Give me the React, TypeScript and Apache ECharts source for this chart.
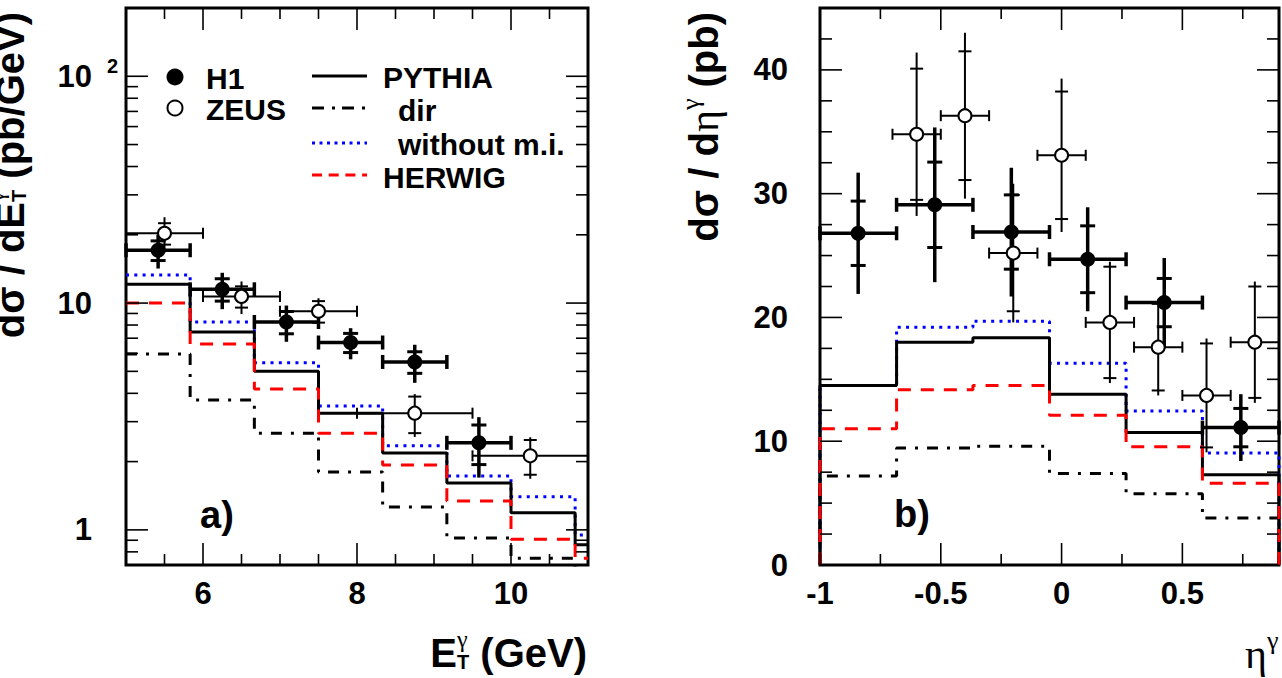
import React, { useEffect, useRef } from 'react';
import * as echarts from 'echarts';

// ---------------- Panel a) : dsigma/dE_T (log scale) ----------------
const etEdges = [5, 5.833, 6.667, 7.5, 8.333, 9.167, 10, 10.833, 11];
const etPythia = [12.1, 7.45, 5.0, 3.27, 2.18, 1.61, 1.19, 0.86];
const etDir = [5.96, 3.74, 2.67, 1.8, 1.26, 0.92, 0.75, 0.6];
const etNoMI = [13.3, 8.25, 5.45, 3.52, 2.35, 1.73, 1.4, 0.95];
const etHerwig = [10.0, 6.6, 4.18, 2.67, 1.93, 1.34, 0.91, 0.75];

const h1EtX = [5.417, 6.25, 7.083, 7.917, 8.75, 9.583];
const h1EtLo = [5, 5.833, 6.667, 7.5, 8.333, 9.167];
const h1EtHi = [5.833, 6.667, 7.5, 8.333, 9.167, 10];
const h1EtVal = [17.1, 11.5, 8.25, 6.7, 5.5, 2.42];
const h1EtStat = [1.7, 1.3, 0.93, 0.65, 0.6, 0.48];
const h1EtTot = [2.9, 2.1, 1.5, 1.05, 1.05, 0.72];

const zeusEtX = [5.5, 6.5, 7.5, 8.75, 10.25];
const zeusEtLo = [5, 6, 7, 8, 9.5];
const zeusEtHi = [6, 7, 8, 9.5, 11];
const zeusEtVal = [20.3, 10.7, 9.2, 3.27, 2.12];
const zeusEtStat = [2.2, 1.15, 1.0, 0.6, 0.37];
const zeusEtTot = [3.6, 1.75, 1.3, 0.7, 0.44];

const etMajorTicks = [6, 8, 10];
const etMinorTicks = [5.5, 6.5, 7, 7.5, 8.5, 9, 9.5, 10.5];
const logMajorTicks = [1, 10, 100];
const logMinorTicks = [0.8, 0.9, 2, 3, 4, 5, 6, 7, 8, 9, 20, 30, 40, 50, 60, 70, 80, 90];

// ---------------- Panel b) : dsigma/deta (linear) ----------------
const etaEdges = [-1, -0.683, -0.367, -0.05, 0.267, 0.583, 0.9];
const etaPythia = [14.5, 18.0, 18.35, 13.8, 10.7, 7.3];
const etaDir = [7.2, 9.45, 9.6, 7.4, 5.75, 3.8];
const etaNoMI = [14.5, 19.2, 19.7, 16.3, 12.45, 9.05];
const etaHerwig = [11.0, 14.15, 14.5, 12.1, 9.55, 6.6];

const h1EtaX = [-0.842, -0.525, -0.208, 0.108, 0.425, 0.742];
const h1EtaLo = [-1, -0.683, -0.367, -0.05, 0.267, 0.583];
const h1EtaHi = [-0.683, -0.367, -0.05, 0.267, 0.583, 0.9];
const h1EtaVal = [26.8, 29.1, 26.9, 24.7, 21.2, 11.1];
const h1EtaStat = [2.6, 3.45, 3.0, 2.7, 1.95, 1.55];
const h1EtaTot = [4.9, 6.25, 5.2, 4.2, 3.6, 2.7];

const zeusEtaX = [-0.6, -0.4, -0.2, 0.0, 0.2, 0.4, 0.6, 0.8];
const zeusEtaLo = [-0.7, -0.5, -0.3, -0.1, 0.1, 0.3, 0.5, 0.7];
const zeusEtaHi = [-0.5, -0.3, -0.1, 0.1, 0.3, 0.5, 0.7, 0.9];
const zeusEtaVal = [34.8, 36.3, 25.2, 33.1, 19.6, 17.6, 13.7, 18.0];
const zeusEtaStat = [5.3, 5.2, 4.7, 5.15, 4.5, 3.5, 4.2, 4.5];
const zeusEtaTot = [6.6, 6.7, 5.6, 6.2, 4.9, 3.9, 4.6, 4.9];

const etaMajorTicks = [-1, -0.5, 0, 0.5];
const etaMinorTicks = [-0.75, -0.25, 0.25, 0.75];
const sigMajorTicks = [0, 10, 20, 30, 40];
const sigMinorTicks = [2.5, 5, 7.5, 12.5, 15, 17.5, 22.5, 25, 27.5, 32.5, 35, 37.5, 42.5];

// ---------------- styling ----------------
const SANS = '"Liberation Sans", Arial, Helvetica, sans-serif';
const SERIF = '"Liberation Serif", "Times New Roman", serif';
const F = (s: number) => `bold ${s}px ${SANS}`;
const G = (s: number) => `${s}px ${SERIF}`;

const DASH_DIR = [11, 9, 3, 9];
const DASH_DOT = [3, 5.3];
const DASH_RED = [13, 10];

const A = { xMin: 5, xMax: 11, yMin: 0.7, yMax: 200 };
const B = { xMin: -1, xMax: 0.9, yMin: 0, yMax: 45 };

function histPoints(edges: number[], vals: number[], dropEnds: boolean) {
  const pts: number[][] = [];
  if (dropEnds) pts.push([edges[0], 0]);
  vals.forEach((v, i) => pts.push([edges[i], v]));
  pts.push([edges[edges.length - 1], vals[vals.length - 1]]);
  if (dropEnds) pts.push([edges[edges.length - 1], 0]);
  return pts;
}

function lineEl(x1: number, y1: number, x2: number, y2: number, w: number) {
  return { type: 'line', shape: { x1, y1, x2, y2 }, style: { stroke: '#000', lineWidth: w } };
}

function errorRender(thick: boolean) {
  const lw = thick ? 3.5 : 2;
  const cap = thick ? 7 : 5.5;
  const cross = thick ? 7.5 : 6.5;
  const crossW = thick ? 3 : 2;
  return (_p: any, api: any) => {
    const x = api.value(0), y = api.value(1), lo = api.value(2), hi = api.value(3);
    const st = api.value(4), tot = api.value(5);
    const pl = api.coord([lo, y]), pr = api.coord([hi, y]);
    const pt = api.coord([x, y + tot]), pb = api.coord([x, y - tot]);
    const s1 = api.coord([x, y + st]), s2 = api.coord([x, y - st]);
    return {
      type: 'group',
      children: [
        lineEl(pl[0], pl[1], pr[0], pr[1], lw),
        lineEl(pl[0], pl[1] - cap, pl[0], pl[1] + cap, lw),
        lineEl(pr[0], pr[1] - cap, pr[0], pr[1] + cap, lw),
        lineEl(pt[0], pt[1], pb[0], pb[1], lw),
        lineEl(s1[0] - cross, s1[1], s1[0] + cross, s1[1], crossW),
        lineEl(s2[0] - cross, s2[1], s2[0] + cross, s2[1], crossW),
      ],
    };
  };
}

function xTickRender(yMin: number, yMax: number) {
  return (_p: any, api: any) => {
    const v = api.value(0);
    const len = api.value(2) === 1 ? 22 : 11;
    const b = api.coord([v, yMin]);
    const t = api.coord([v, yMax]);
    return {
      type: 'group',
      children: [lineEl(b[0], b[1], b[0], b[1] - len, 1.6), lineEl(t[0], t[1], t[0], t[1] + len, 1.6)],
    };
  };
}

function yTickRender(xMin: number, xMax: number) {
  return (_p: any, api: any) => {
    const v = api.value(1);
    const len = api.value(2) === 1 ? 22 : 12;
    const l = api.coord([xMin, v]);
    const r = api.coord([xMax, v]);
    return {
      type: 'group',
      children: [lineEl(l[0], l[1], l[0] + len, l[1], 1.6), lineEl(r[0], r[1], r[0] - len, r[1], 1.6)],
    };
  };
}

function errData(xs: number[], v: number[], lo: number[], hi: number[], st: number[], tot: number[]) {
  return xs.map((x, i) => [x, v[i], lo[i], hi[i], st[i], tot[i]]);
}

const near = (arr: number[], v: number) => arr.some((t) => Math.abs(t - v) < 1e-6 * Math.max(1, Math.abs(t)));

// text layout helpers
let measureCtx: CanvasRenderingContext2D | null = null;
function tw(text: string, font: string) {
  if (!measureCtx) measureCtx = document.createElement('canvas').getContext('2d');
  measureCtx!.font = font;
  return measureCtx!.measureText(text).width;
}
type Seg = { t: string; f: string; s: number; dy: number; serif?: boolean; advance?: boolean };
function buildRow(segs: Seg[]) {
  let x = 0;
  let pending = 0;
  const items: any[] = [];
  for (const sg of segs) {
    const w = tw(sg.t, sg.f);
    items.push({ ...sg, x, w });
    if (sg.advance === false) pending = Math.max(pending, w);
    else {
      x += Math.max(pending, w);
      pending = 0;
    }
  }
  return { items, width: x };
}
function rowTexts(segs: Seg[], startX: number, baseline: number, alignEnd: boolean) {
  const row = buildRow(segs);
  const x0 = alignEnd ? startX - row.width : startX;
  return row.items.map((it: any) => ({
    type: 'text',
    x: x0 + it.x,
    y: baseline + it.dy - (it.serif ? 0.338 : 0.346) * it.s,
    style: {
      text: it.t,
      font: it.f,
      fill: '#000',
      align: 'left',
      textAlign: 'left',
      verticalAlign: 'middle',
      textVerticalAlign: 'middle',
    },
  }));
}
function txt(text: string, x: number, y: number, font: string, align = 'left') {
  return {
    type: 'text',
    x,
    y,
    style: { text, font, fill: '#000', align, textAlign: align, verticalAlign: 'middle', textVerticalAlign: 'middle' },
  };
}

function buildOption() {
  const labelBase = { color: '#000', fontFamily: SANS, fontWeight: 'bold', fontSize: 31 };
  const hidden = { axisLine: { show: false }, axisTick: { show: false }, splitLine: { show: false } };

  const leftYTitle = rowTexts(
    [
      { t: 'dσ / dE', f: F(40), s: 40, dy: 0 },
      { t: 'γ', f: G(24), s: 24, dy: -20, serif: true, advance: false },
      { t: 'T', f: F(20), s: 20, dy: 2 },
      { t: ' (pb/GeV)', f: F(40), s: 40, dy: 0 },
    ],
    0,
    0,
    true
  );
  const rightYTitle = rowTexts(
    [
      { t: 'dσ / d', f: F(40), s: 40, dy: 0 },
      { t: 'η', f: G(42), s: 42, dy: 0, serif: true },
      { t: 'γ', f: G(26), s: 26, dy: -19, serif: true },
      { t: ' (pb)', f: F(40), s: 40, dy: 0 },
    ],
    0,
    0,
    true
  );
  const leftXTitle = rowTexts(
    [
      { t: 'E', f: F(40), s: 40, dy: 0 },
      { t: 'γ', f: G(24), s: 24, dy: -20, serif: true, advance: false },
      { t: 'T', f: F(20), s: 20, dy: 2 },
      { t: ' (GeV)', f: F(40), s: 40, dy: 0 },
    ],
    587,
    667,
    true
  );
  const rightXTitle = rowTexts(
    [
      { t: 'η', f: G(42), s: 42, dy: 0, serif: true },
      { t: 'γ', f: G(26), s: 26, dy: -19, serif: true },
    ],
    1245,
    668,
    false
  );

  const graphic: any[] = [
    { type: 'group', x: 24, y: 12, rotation: Math.PI / 2, children: leftYTitle },
    { type: 'group', x: 718, y: 12, rotation: Math.PI / 2, children: rightYTitle },
    ...leftXTitle,
    ...rightXTitle,
    // legend
    { type: 'circle', shape: { cx: 175, cy: 77, r: 8.5 }, style: { fill: '#000' } },
    { type: 'circle', shape: { cx: 175, cy: 108, r: 7.5 }, style: { fill: '#fff', stroke: '#000', lineWidth: 2 } },
    txt('H1', 206, 78, F(30)),
    txt('ZEUS', 206, 109, F(30)),
    { type: 'line', shape: { x1: 312, y1: 76, x2: 367, y2: 76 }, style: { stroke: '#000', lineWidth: 3 } },
    { type: 'line', shape: { x1: 312, y1: 108, x2: 367, y2: 108 }, style: { stroke: '#000', lineWidth: 3, lineDash: [12, 8, 3, 7] } },
    { type: 'line', shape: { x1: 312, y1: 143, x2: 367, y2: 143 }, style: { stroke: '#0000ff', lineWidth: 3, lineDash: [3, 4.5] } },
    { type: 'line', shape: { x1: 312, y1: 175, x2: 367, y2: 175 }, style: { stroke: '#ff0000', lineWidth: 3, lineDash: [10, 6.7] } },
    txt('PYTHIA', 383, 77, F(30)),
    txt('dir', 398, 110, F(30)),
    txt('without m.i.', 398, 144, F(30)),
    txt('HERWIG', 383, 177, F(30)),
    txt('a)', 217, 515, F(38), 'center'),
    txt('b)', 912, 514, F(38), 'center'),
  ];

  const histSeries = (name: string, data: number[][], idx: number, color: string, type: any) => ({
    type: 'line',
    name,
    xAxisIndex: idx,
    yAxisIndex: idx,
    data,
    step: 'end',
    showSymbol: false,
    symbol: 'none',
    silent: true,
    lineStyle: { color, width: 3, type, cap: 'butt' },
    z: 2,
  });

  const series: any[] = [
    // panel a histograms
    histSeries('without m.i.', histPoints(etEdges, etNoMI, false), 0, '#0000ff', DASH_DOT),
    histSeries('PYTHIA', histPoints(etEdges, etPythia, false), 0, '#000', 'solid'),
    histSeries('dir', histPoints(etEdges, etDir, false), 0, '#000', DASH_DIR),
    histSeries('HERWIG', histPoints(etEdges, etHerwig, false), 0, '#ff0000', DASH_RED),
    // panel b histograms
    histSeries('without m.i.', histPoints(etaEdges, etaNoMI, true), 1, '#0000ff', DASH_DOT),
    histSeries('PYTHIA', histPoints(etaEdges, etaPythia, true), 1, '#000', 'solid'),
    histSeries('dir', histPoints(etaEdges, etaDir, true), 1, '#000', DASH_DIR),
    histSeries('HERWIG', histPoints(etaEdges, etaHerwig, true), 1, '#ff0000', DASH_RED),
    // ticks
    {
      type: 'custom', xAxisIndex: 0, yAxisIndex: 0, silent: true, z: 3, encode: { x: 0, y: 1 },
      renderItem: xTickRender(A.yMin, A.yMax),
      data: [...etMajorTicks.map((v) => [v, 1, 1]), ...etMinorTicks.map((v) => [v, 1, 0])],
    },
    {
      type: 'custom', xAxisIndex: 0, yAxisIndex: 0, silent: true, z: 3, encode: { x: 0, y: 1 },
      renderItem: yTickRender(A.xMin, A.xMax),
      data: [...logMajorTicks.map((v) => [A.xMin, v, 1]), ...logMinorTicks.map((v) => [A.xMin, v, 0])],
    },
    {
      type: 'custom', xAxisIndex: 1, yAxisIndex: 1, silent: true, z: 3, encode: { x: 0, y: 1 },
      renderItem: xTickRender(B.yMin, B.yMax),
      data: [...etaMajorTicks.map((v) => [v, 1, 1]), ...etaMinorTicks.map((v) => [v, 1, 0])],
    },
    {
      type: 'custom', xAxisIndex: 1, yAxisIndex: 1, silent: true, z: 3, encode: { x: 0, y: 1 },
      renderItem: yTickRender(B.xMin, B.xMax),
      data: [...sigMajorTicks.map((v) => [B.xMin, v, 1]), ...sigMinorTicks.map((v) => [B.xMin, v, 0])],
    },
    // error bars
    {
      type: 'custom', name: 'ZEUS', xAxisIndex: 0, yAxisIndex: 0, silent: true, z: 4, encode: { x: 0, y: 1 },
      renderItem: errorRender(false),
      data: errData(zeusEtX, zeusEtVal, zeusEtLo, zeusEtHi, zeusEtStat, zeusEtTot),
    },
    {
      type: 'custom', name: 'H1', xAxisIndex: 0, yAxisIndex: 0, silent: true, z: 4, encode: { x: 0, y: 1 },
      renderItem: errorRender(true),
      data: errData(h1EtX, h1EtVal, h1EtLo, h1EtHi, h1EtStat, h1EtTot),
    },
    {
      type: 'custom', name: 'ZEUS', xAxisIndex: 1, yAxisIndex: 1, silent: true, z: 4, encode: { x: 0, y: 1 },
      renderItem: errorRender(false),
      data: errData(zeusEtaX, zeusEtaVal, zeusEtaLo, zeusEtaHi, zeusEtaStat, zeusEtaTot),
    },
    {
      type: 'custom', name: 'H1', xAxisIndex: 1, yAxisIndex: 1, silent: true, z: 4, encode: { x: 0, y: 1 },
      renderItem: errorRender(true),
      data: errData(h1EtaX, h1EtaVal, h1EtaLo, h1EtaHi, h1EtaStat, h1EtaTot),
    },
    // markers
    {
      type: 'scatter', name: 'ZEUS', xAxisIndex: 0, yAxisIndex: 0, silent: true, z: 5, symbol: 'circle', symbolSize: 13,
      itemStyle: { color: '#fff', borderColor: '#000', borderWidth: 2, opacity: 1 },
      data: zeusEtX.map((x, i) => [x, zeusEtVal[i]]),
    },
    {
      type: 'scatter', name: 'H1', xAxisIndex: 0, yAxisIndex: 0, silent: true, z: 5, symbol: 'circle', symbolSize: 15,
      itemStyle: { color: '#000', opacity: 1 },
      data: h1EtX.map((x, i) => [x, h1EtVal[i]]),
    },
    {
      type: 'scatter', name: 'ZEUS', xAxisIndex: 1, yAxisIndex: 1, silent: true, z: 5, symbol: 'circle', symbolSize: 13,
      itemStyle: { color: '#fff', borderColor: '#000', borderWidth: 2, opacity: 1 },
      data: zeusEtaX.map((x, i) => [x, zeusEtaVal[i]]),
    },
    {
      type: 'scatter', name: 'H1', xAxisIndex: 1, yAxisIndex: 1, silent: true, z: 5, symbol: 'circle', symbolSize: 15,
      itemStyle: { color: '#000', opacity: 1 },
      data: h1EtaX.map((x, i) => [x, h1EtaVal[i]]),
    },
  ];

  return {
    animation: false,
    backgroundColor: '#fff',
    grid: [
      { left: 126, top: 8, width: 462, height: 557, show: true, borderColor: '#000', borderWidth: 3, backgroundColor: 'transparent' },
      { left: 820, top: 8, width: 461, height: 557, show: true, borderColor: '#000', borderWidth: 3, backgroundColor: 'transparent' },
    ],
    xAxis: [
      {
        gridIndex: 0, type: 'value', min: A.xMin, max: A.xMax, interval: 1, ...hidden,
        axisLabel: { ...labelBase, margin: 13, formatter: (v: number) => (near(etMajorTicks, v) ? String(v) : '') },
      },
      {
        gridIndex: 1, type: 'value', min: B.xMin, max: B.xMax, interval: 0.5, ...hidden,
        axisLabel: { ...labelBase, margin: 13, formatter: (v: number) => (near(etaMajorTicks, v) ? String(v) : '') },
      },
    ],
    yAxis: [
      {
        gridIndex: 0, type: 'log', logBase: 10, min: A.yMin, max: A.yMax, ...hidden,
        axisLabel: {
          ...labelBase,
          margin: 8,
          formatter: (v: number) => {
            if (!near(logMajorTicks, v)) return '';
            if (Math.abs(v - 100) < 1e-6) return '{b|10}{s|2}';
            return `{b|${v >= 9.999 ? '10' : '1'}}{p| }`;
          },
          rich: {
            b: { fontFamily: SANS, fontWeight: 'bold', fontSize: 31, color: '#000', lineHeight: 40 },
            s: { fontFamily: SANS, fontWeight: 'bold', fontSize: 20, color: '#000', lineHeight: 20, verticalAlign: 'top', width: 26, align: 'right' },
            p: { fontFamily: SANS, fontSize: 20, width: 26, align: 'right' },
          },
        },
      },
      {
        gridIndex: 1, type: 'value', min: B.yMin, max: B.yMax, interval: 10, ...hidden,
        axisLabel: { ...labelBase, margin: 32, formatter: (v: number) => (near(sigMajorTicks, v) ? String(v) : '') },
      },
    ],
    graphic,
    series,
  };
}

export default function App() {
  const ref = useRef<HTMLDivElement>(null);
  useEffect(() => {
    document.body.style.margin = '0';
    const chart = echarts.init(ref.current as HTMLDivElement, null, { renderer: 'svg' });
    chart.setOption(buildOption() as any);
    return () => chart.dispose();
  }, []);
  return (
    <div
      ref={ref}
      style={{ position: 'absolute', left: 0, top: 0, width: 1282, height: 678, background: '#fff' }}
    />
  );
}
